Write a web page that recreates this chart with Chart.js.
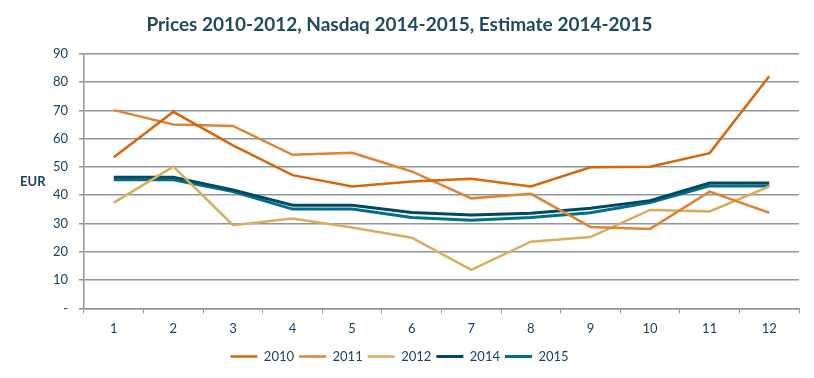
<!DOCTYPE html>
<html>
<head>
<meta charset="utf-8">
<script src="https://cdn.jsdelivr.net/npm/chart.js@4.4.1/dist/chart.umd.min.js"></script>
<style>
  html, body { margin: 0; padding: 0; background: #fff; }
  #wrap { width: 814px; height: 378px; }
</style>
</head>
<body>
<div id="wrap"><canvas id="priceChart" width="814" height="378"></canvas></div>
<script>
// months on the x axis
const months = ['1', '2', '3', '4', '5', '6', '7', '8', '9', '10', '11', '12'];

// values (EUR)
const prices2010 = [53.4, 69.5, 57.6, 47.1, 43.1, 44.9, 45.8, 43.1, 49.9, 50.1, 54.9, 82.1];
const prices2011 = [70.1, 65.0, 64.5, 54.3, 55.0, 48.4, 38.9, 40.5, 28.8, 28.1, 41.3, 33.8];
const prices2012 = [37.4, 50.1, 29.4, 31.8, 28.6, 25.0, 13.6, 23.6, 25.2, 34.8, 34.3, 43.1];
const prices2014 = [46.4, 46.4, 41.9, 36.5, 36.5, 33.9, 33.0, 33.6, 35.4, 38.1, 44.3, 44.3];
const prices2015 = [45.5, 45.5, 41.3, 35.1, 35.1, 32.1, 31.2, 32.1, 33.8, 37.4, 43.3, 43.3];

const textColor = '#18435E';
const titleColor = '#1E4A5C';
const gridColor = '#8C969D';
const fontFamily = 'Lato, "Open Sans", sans-serif';

function series(label, data, color, width) {
  return {
    label: label,
    data: data,
    borderColor: color,
    backgroundColor: color,
    borderWidth: width,
    pointRadius: 0,
    tension: 0,
    fill: false
  };
}

// small plugin for the horizontal "EUR" label left of the axis
const eurLabel = {
  id: 'eurLabel',
  afterDraw(chart) {
    const ctx = chart.ctx;
    ctx.save();
    ctx.font = 'bold 13px ' + fontFamily;
    ctx.fillStyle = textColor;
    ctx.textAlign = 'left';
    ctx.textBaseline = 'middle';
    ctx.fillText('EUR', 20, 182);
    ctx.restore();
  }
};

const data = {
  labels: months,
  datasets: [
    series('2010', prices2010, '#D4680C', 2.5),
    series('2011', prices2011, '#DD8537', 2.5),
    series('2012', prices2012, '#D8AE5C', 2.5),
    series('2014', prices2014, '#004A5F', 3),
    series('2015', prices2015, '#036E8B', 3)
  ]
};

const config = {
  type: 'line',
  data: data,
  options: {
    responsive: false,
    animation: false,
    layout: { padding: { left: 0, right: 15, top: 0, bottom: 5 } },
    plugins: {
      title: {
        display: true,
        text: 'Prices 2010-2012, Nasdaq 2014-2015, Estimate 2014-2015',
        color: titleColor,
        font: { family: fontFamily, size: 19, weight: 'bold' },
        padding: { top: 13, bottom: 18 }
      },
      legend: {
        position: 'bottom',
        labels: {
          color: textColor,
          font: { family: fontFamily, size: 13 },
          usePointStyle: true,
          pointStyle: 'line',
          pointStyleWidth: 27,
          padding: 5
        }
      },
      tooltip: { enabled: false }
    },
    scales: {
      x: {
        offset: true,
        grid: {
          display: true,
          drawOnChartArea: false,
          color: gridColor,
          tickLength: 5,
          offset: true
        },
        border: { color: gridColor, width: 1.5 },
        ticks: {
          color: textColor,
          font: { family: fontFamily, size: 13 },
          padding: 8
        }
      },
      y: {
        min: 0,
        max: 90,
        afterFit(scale) { scale.width = 84; },
        grid: { color: gridColor, lineWidth: 1.5, tickLength: 5 },
        border: { color: gridColor, width: 1.5 },
        ticks: {
          stepSize: 10,
          color: textColor,
          font: { family: fontFamily, size: 13 },
          padding: 11,
          callback: (v) => v === 0 ? '-' : v
        }
      }
    }
  },
  plugins: [eurLabel]
};

new Chart(document.getElementById('priceChart').getContext('2d'), config);
</script>
</body>
</html>
